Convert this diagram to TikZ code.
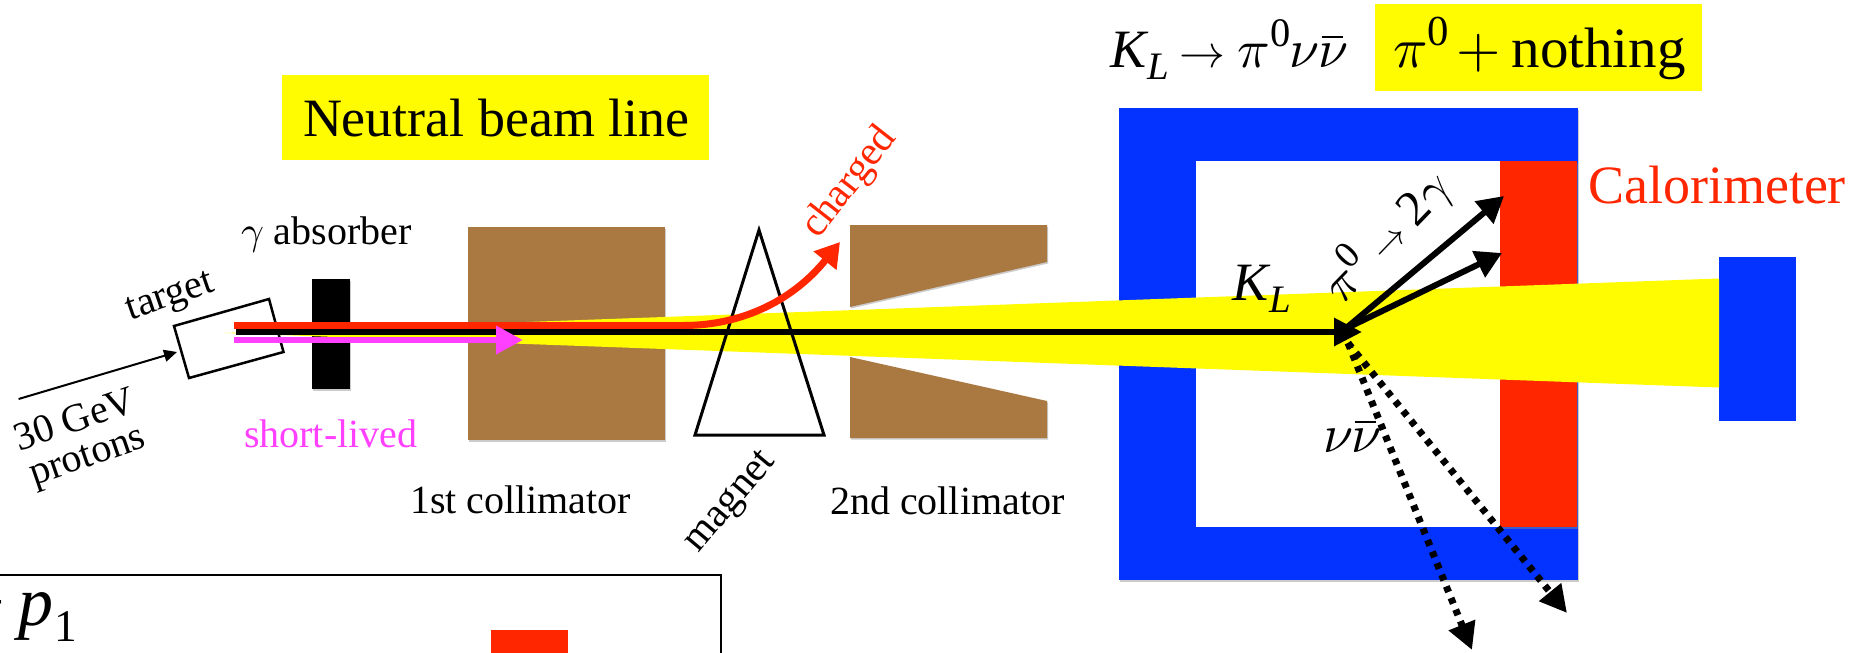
\documentclass[tikz,border=0pt]{standalone}
\usepackage{fontspec}
\usepackage{graphicx}
\setmainfont{Liberation Serif}
\usetikzlibrary{arrows.meta,shadows}
\definecolor{kblue}{HTML}{0433FF}
\definecolor{kred}{HTML}{FF2600}
\definecolor{kyellow}{HTML}{FFFB00}
\definecolor{kbrown}{HTML}{AA7942}
\definecolor{kmag}{HTML}{FF40FF}
\makeatletter
\newcommand\gk[1]{\scalebox{\fpeval{\f@size/10}}{\fontsize{10}{12}\selectfont$#1$}}
\makeatother
\newcommand\subs[1]{\raisebox{-.24em}{\scalebox{.72}{#1}}}
\newcommand\sups[1]{\raisebox{.38em}{\scalebox{.75}{#1}}}
\newcommand\nubar{\leavevmode\rlap{\kern.06em\rule[.53em]{.40em}{.05em}}\gk{\nu}}
\newcommand\KL{\textit{K}\kern-.02em\subs{\textit{L}}}
\newcommand\smallarrow[1]{\scalebox{#1}{\gk{\rightarrow}}}
\tikzset{
  lab/.style={inner sep=0pt,outer sep=0pt,anchor=base west,font=\fontsize{40}{44}\selectfont},
  big/.style={lab,font=\fontsize{54}{58}\selectfont},
  tilt/.style={inner sep=0pt,outer sep=0pt,anchor=center,align=center,font=\fontsize{40}{37}\selectfont},
  soft/.style={drop shadow={shadow xshift=1pt,shadow yshift=-1.5pt,fill=black!45,opacity=.45}},
  brownblock/.style={fill=kbrown,soft},
  outline/.style={draw=black,line width=2.5pt,line join=miter,fill=none},
  beamline/.style={line width=6pt,-{Triangle[length=28pt,width=27pt]}},
  decay/.style={black,line width=6pt,-{Triangle[length=26pt,width=28pt]}},
  nu/.style={black,line width=7pt,dash pattern=on 6pt off 6.5pt,-{Triangle[length=27pt,width=27pt]}},
}
\begin{document}
\begin{tikzpicture}[x=1pt,y=-1pt]
\useasboundingbox (0,0) rectangle (1855,653);
\clip (0,0) rectangle (1855,653);

% yellow label boxes
\fill[kyellow] (282,75) rectangle (709,160);
\fill[kyellow] (1375,4) rectangle (1702,91);

% detector
\fill[kblue,soft] (1119,108) rectangle (1578,580);
\fill[white] (1196,161) rectangle (1500,527);
\fill[kred,soft] (1500,161) rectangle (1577,527);
\fill[kblue] (1719,257) rectangle (1796,421);

% absorber and collimators
\fill[black,soft] (312,279) rectangle (350,389);
\fill[brownblock] (468,227) rectangle (665,440);
\fill[brownblock] (850,225) -- (1047,225) -- (1047,262) -- (850,307) -- cycle;
\fill[brownblock] (850,357) -- (1047,401) -- (1047,438) -- (850,438) -- cycle;

% neutral beam
\fill[kyellow] (225,333) -- (1719,278.5) -- (1719,387.5) -- cycle;

% target and magnet
\draw[outline] (174,326) -- (269,299) -- (283.5,352) -- (189,378) -- cycle;
\draw[outline,line width=3pt] (759,230) -- (824,435) -- (695,435) -- cycle;

% lower inset box
\draw[black,line width=2.5pt] (-5,575) -- (721,575) -- (721,660);
\fill[kred] (491,630) rectangle (568,660);

% named ends
\coordinate (pin) at (18.6,399);
\coordinate (pout) at (177,352);
\coordinate (blackstart) at (236,332);
\coordinate (decayvtx) at (1362,332);
\coordinate (gamfrom) at (1345,329);
\coordinate (gamA) at (1504,196);
\coordinate (gamB) at (1502,253);
\coordinate (nufrom) at (1348,343);
\coordinate (nuA) at (1472,650);
\coordinate (nuB) at (1567,613);
\coordinate (redstart) at (234,325.5);
\coordinate (redbend) at (683,325.5);
\coordinate (redend) at (840,242);
\coordinate (magstart) at (234,340);
\coordinate (magend) at (523,340);

% connectors
\draw[black,line width=2pt,-{Triangle[length=13pt,width=12pt]}] (pin) -- (pout);
\draw[beamline,black] (blackstart) -- (decayvtx);
\draw[kred,line width=6.5pt] (redstart) -- (redbend);
\draw[kred,line width=7pt,-{Triangle[length=24pt,width=28pt]}] (redbend) .. controls (745,325.5) and (795,298) .. (redend);
\draw[kmag,line width=6.5pt,-{Triangle[length=27pt,width=27pt]}] (magstart) -- (magend);
\draw[decay] (gamfrom) -- (gamA);
\draw[decay] (gamfrom) -- (gamB);
\draw[nu] (nufrom) -- (nuA);
\draw[nu] (nufrom) -- (nuB);

% labels
\node[big] (beamlab) at (303,136) {Neutral beam line};
\node[big] (decaylab) at (1110,67) {\KL\kern.2em\smallarrow{.85}\kern.22em\gk{\pi}\sups{0}\kern-.02em\gk{\nu}\kern-.02em\nubar};
\node[big,font=\fontsize{57}{60}\selectfont] (nothing) at (1393,67) {\gk{\pi}\sups{0}\kern.14em\gk{+}\kern.18em nothing};
\node[big,text=kred] (calo) at (1588,203) {Calorimeter};
\node[lab] (gamabs) at (241,244) {\gk{\gamma} absorber};
\node[lab] (coll1) at (410,513) {1st collimator};
\node[lab] (coll2) at (830,514) {2nd collimator};
\node[lab,text=kmag] (short) at (244,447) {short-lived};
\node[tilt,rotate=19] (targ) at (171,299) {target};
\node[tilt,rotate=19] (protons) at (82,440) {30 GeV\\protons};
\node[tilt,rotate=52,text=kred,font=\fontsize{41}{44}\selectfont] (charged) at (850,183) {charged};
\node[tilt,rotate=50,font=\fontsize{41}{44}\selectfont] (magnetlab) at (732,503) {magnet};
\node[big] (kl) at (1232,300) {\KL};
\node[big] (nunu) at (1323,452) {\gk{\nu}\kern-.03em\nubar};
\node[tilt,rotate=46,font=\fontsize{50}{54}\selectfont] (pidecay) at (1386,236) {\gk{\pi}\sups{0}\kern.22em\smallarrow{.72}\kern.22em 2\gk{\gamma}};
\node[lab,font=\fontsize{70}{74}\selectfont] (pone) at (-34,625) {+\kern.18em\textit{p}\kern.02em\subs{\scalebox{.9}{1}}};
\end{tikzpicture}
\end{document}
